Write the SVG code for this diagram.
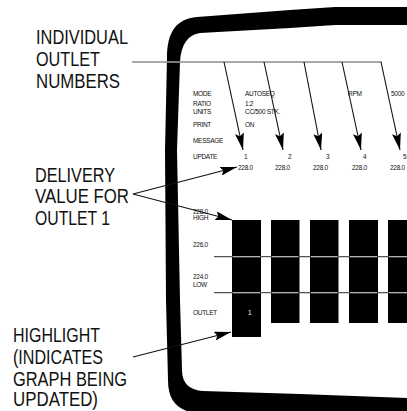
<svg xmlns="http://www.w3.org/2000/svg" width="407" height="411" viewBox="0 0 407 411">
<defs>
<style>
.big{font-family:"Liberation Sans",Arial,sans-serif;font-size:20px;fill:#111}
.sm{font-family:"Liberation Sans",Arial,sans-serif;font-size:6.5px;fill:#111;letter-spacing:-0.3px}
.wt{font-family:"Liberation Sans",Arial,sans-serif;font-size:6.5px;fill:#fff}
.ln{stroke:#111;stroke-width:1.1;fill:none}
.gl{stroke:#555;stroke-width:1.2;fill:none}
.gl2{stroke:#b0b0b0;stroke-width:1.2;fill:none}
.bar{fill:#000}
</style>
<marker id="ah" viewBox="0 0 17 9" refX="17" refY="4.5" markerWidth="17" markerHeight="9" markerUnits="userSpaceOnUse" orient="auto">
<path d="M0,0 L17,4.5 L0,9 L3,4.5 Z" fill="#000"/>
</marker>
</defs>
<rect width="407" height="411" fill="#fff"/>

<g id="frame">
<path d="M410,7 L335,7 L290,10 L197,17 C176,19 167,32 167,58 L165,150 L166,300 L168,380 C168,398 175,408 190,412 L410,412 L410,398 L300,394 L203,391 C190,390 182,384 182,370 L180,300 L177,150 L180,62 C181,44 188,35 200,33 L290,28 L335,25 L410,25 Z" fill="#000"/>
</g>

<g id="screen-text">
<text class="sm" x="193" y="96">MODE</text>
<text class="sm" x="193" y="106">RATIO</text>
<text class="sm" x="193" y="113.5">UNITS</text>
<text class="sm" x="193" y="126.5">PRINT</text>
<text class="sm" x="193" y="142.5">MESSAGE</text>
<text class="sm" x="193" y="159">UPDATE</text>
<text class="sm" x="245" y="96">AUTOSEQ</text>
<text class="sm" x="245" y="106">1:2</text>
<text class="sm" x="245" y="113.5">CC/500 STK.</text>
<text class="sm" x="245" y="126.5">ON</text>
<text class="sm" x="348" y="96">RPM</text>
<text class="sm" x="391" y="96">5000</text>
<text class="sm" x="244" y="159">1</text>
<text class="sm" x="288" y="159">2</text>
<text class="sm" x="326" y="159">3</text>
<text class="sm" x="363" y="159">4</text>
<text class="sm" x="403" y="159">5</text>
<text class="sm" x="238" y="170">228.0</text>
<text class="sm" x="275" y="170">228.0</text>
<text class="sm" x="313" y="170">228.0</text>
<text class="sm" x="352" y="170">228.0</text>
<text class="sm" x="390" y="170">228.0</text>
<text class="sm" x="193" y="213.5">228.0</text>
<text class="sm" x="193" y="220">HIGH</text>
<text class="sm" x="193" y="247">226.0</text>
<text class="sm" x="193" y="279">224.0</text>
<text class="sm" x="193" y="286.5">LOW</text>
<text class="sm" x="193" y="315">OUTLET</text>
</g>

<g id="bars">
<rect id="bar1" class="bar" x="232" y="220" width="29" height="117"/>
<rect id="bar2" class="bar" x="271" y="220" width="28.5" height="103"/>
<rect id="bar3" class="bar" x="310" y="220" width="28.5" height="103"/>
<rect id="bar4" class="bar" x="349" y="220" width="29" height="103"/>
<rect id="bar5" class="bar" x="388" y="220" width="25" height="103"/>
<text class="wt" x="248" y="315">1</text>
</g>

<g id="gridlines">
<path class="gl" d="M214,256.7 H407 M214,292.7 H407"/>
<path class="gl2" d="M233,256.7 H260 M272,256.7 H298 M311,256.7 H337.5 M350,256.7 H377 M389,256.7 H407 M233,292.7 H260 M272,292.7 H298 M311,292.7 H337.5 M350,292.7 H377 M389,292.7 H407"/>
</g>

<g id="labels">
<text class="big" x="36" y="44" textLength="92" lengthAdjust="spacingAndGlyphs">INDIVIDUAL</text>
<text class="big" x="36" y="66" textLength="64" lengthAdjust="spacingAndGlyphs">OUTLET</text>
<text class="big" x="36" y="88" textLength="84" lengthAdjust="spacingAndGlyphs">NUMBERS</text>
<text class="big" x="35" y="182" textLength="80" lengthAdjust="spacingAndGlyphs">DELIVERY</text>
<text class="big" x="35" y="203" textLength="94" lengthAdjust="spacingAndGlyphs">VALUE FOR</text>
<text class="big" x="35" y="225" textLength="75" lengthAdjust="spacingAndGlyphs">OUTLET 1</text>
<text class="big" x="13" y="342" textLength="87" lengthAdjust="spacingAndGlyphs">HIGHLIGHT</text>
<text class="big" x="13" y="364" textLength="90" lengthAdjust="spacingAndGlyphs">(INDICATES</text>
<text class="big" x="13" y="386" textLength="114" lengthAdjust="spacingAndGlyphs">GRAPH BEING</text>
<text class="big" x="13" y="406" textLength="85" lengthAdjust="spacingAndGlyphs">UPDATED)</text>
</g>

<g id="connectors">
<path class="gl" d="M132,62 H382"/>
<path class="gl2" d="M167,62 H180"/>
<line class="ln" x1="224" y1="62" x2="243" y2="150" marker-end="url(#ah)"/>
<line class="ln" x1="264" y1="62" x2="283" y2="150" marker-end="url(#ah)"/>
<line class="ln" x1="304" y1="62" x2="321" y2="150" marker-end="url(#ah)"/>
<line class="ln" x1="342" y1="62" x2="361" y2="150" marker-end="url(#ah)"/>
<line class="ln" x1="381" y1="62" x2="400" y2="150" marker-end="url(#ah)"/>
<line class="ln" x1="133" y1="194" x2="237" y2="167" marker-end="url(#ah)"/>
<line class="ln" x1="133" y1="194" x2="232" y2="220" marker-end="url(#ah)"/>
<line class="ln" x1="133" y1="357" x2="231" y2="332" marker-end="url(#ah)"/>
</g>
</svg>
